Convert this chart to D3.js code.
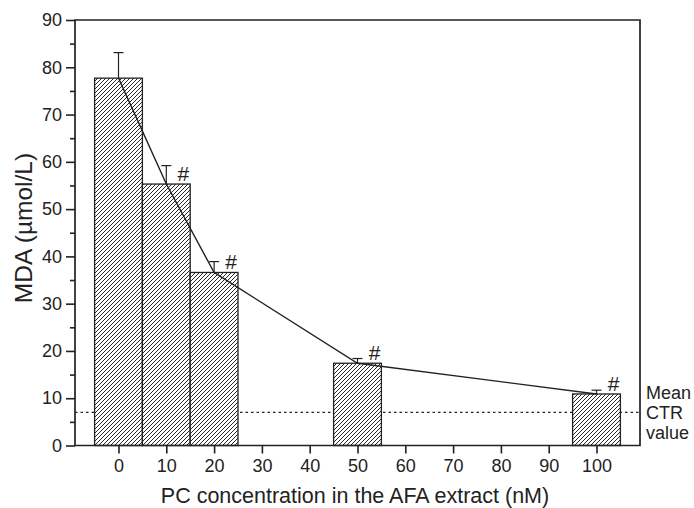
<!DOCTYPE html>
<html><head><meta charset="utf-8">
<script src="https://cdn.jsdelivr.net/npm/d3@7"></script>
<style>body{margin:0;background:#fff}svg{display:block}text{font-family:"Liberation Sans",Arial,sans-serif;fill:#222}</style>
</head><body><svg id="c" width="694" height="508"></svg>
<script>
const concentrations = [0, 10, 20, 50, 100];
const mdaValues = [77.7, 55.3, 36.6, 17.4, 10.9];
const mdaErrors = [5.4, 3.9, 2.3, 1.0, 0.8];
const significant = [false, true, true, true, true];
const xTicks = [0, 10, 20, 30, 40, 50, 60, 70, 80, 90, 100];
const yTicks = [0, 10, 20, 30, 40, 50, 60, 70, 80, 90];
const yMinorTicks = [5, 15, 25, 35, 45, 55, 65, 75, 85];
const ctrMean = 7;
const barWidthUnits = 10;
const xTitle = "PC concentration in the AFA extract (nM)";
const yTitle = "MDA (\u00b5mol/L)";
const ctrLabel = ["Mean", "CTR", "value"];

const svg = d3.select("#c");
const L = 75, R = 640, T = 20, B = 445.5;
const x = d3.scaleLinear().domain([-9.1, 109.1]).range([L, R]);
const y = d3.scaleLinear().domain([0, 90]).range([B, T]);
const ink = "#222";

const defs = svg.append("defs");
const S = 4;
const pat = defs.append("pattern").attr("id", "hatch").attr("patternUnits", "userSpaceOnUse")
  .attr("width", S).attr("height", S);
pat.append("rect").attr("width", S).attr("height", S).attr("fill", "#fff");
pat.append("path").attr("d", `M-1,1 L1,-1 M0,${S} L${S},0 M${S-1},${S+1} L${S+1},${S-1}`)
  .attr("stroke", "#1e1e1e").attr("stroke-width", 0.95);

// dotted control line
svg.append("line").attr("x1", L).attr("x2", R).attr("y1", y(ctrMean)).attr("y2", y(ctrMean))
  .attr("stroke", ink).attr("stroke-width", 1.1).attr("stroke-dasharray", "2.5,3");

// bars
svg.selectAll("rect.bar").data(concentrations).join("rect").attr("class", "bar")
  .attr("x", d => x(d - barWidthUnits / 2))
  .attr("width", d => x(d + barWidthUnits / 2) - x(d - barWidthUnits / 2))
  .attr("y", (d, i) => y(mdaValues[i]))
  .attr("height", (d, i) => B - y(mdaValues[i]))
  .attr("fill", "url(#hatch)").attr("stroke", ink).attr("stroke-width", 1.3);

// error bars
const eb = svg.append("g").attr("stroke", ink).attr("stroke-width", 1.2);
concentrations.forEach((c, i) => {
  const cx = x(c), y0 = y(mdaValues[i]), y1 = y(mdaValues[i] + mdaErrors[i]);
  eb.append("line").attr("x1", cx).attr("x2", cx).attr("y1", y0).attr("y2", y1);
  eb.append("line").attr("x1", cx - 5).attr("x2", cx + 5).attr("y1", y1).attr("y2", y1);
});

// connecting line
svg.append("path").datum(concentrations)
  .attr("d", d3.line().x(d => x(d)).y((d, i) => y(mdaValues[i])))
  .attr("fill", "none").attr("stroke", ink).attr("stroke-width", 1.4);

// significance marks
svg.selectAll("text.sig").data(concentrations.filter((c, i) => significant[i])).join("text")
  .attr("class", "sig")
  .attr("x", d => x(d) + 17).attr("y", d => y(mdaValues[concentrations.indexOf(d)]) - 3)
  .attr("text-anchor", "middle").attr("font-size", 21).text("#");

// frame
svg.append("path").attr("d", `M${L},${B} L${L},${T} L${R},${T} L${R},${B} Z`)
  .attr("fill", "none").attr("stroke", ink).attr("stroke-width", 1.7);

// axes
const xa = svg.append("g").attr("transform", `translate(0,${B})`)
  .call(d3.axisBottom(x).tickValues(xTicks).tickSize(8).tickPadding(6).tickFormat(d3.format("d")));
xa.select(".domain").remove();
xa.selectAll("line").attr("stroke", ink).attr("stroke-width", 1.6);
xa.selectAll("text").attr("font-size", 18).attr("fill", ink).attr("font-family", '"Liberation Sans",Arial,sans-serif');

const ya = svg.append("g").attr("transform", `translate(${L},0)`)
  .call(d3.axisLeft(y).tickValues(yTicks).tickSize(9).tickPadding(4).tickFormat(d3.format("d")));
ya.select(".domain").remove();
ya.selectAll("line").attr("stroke", ink).attr("stroke-width", 1.6);
ya.selectAll("text").attr("font-size", 18).attr("fill", ink).attr("font-family", '"Liberation Sans",Arial,sans-serif');

const ym = svg.append("g").attr("transform", `translate(${L},0)`)
  .call(d3.axisLeft(y).tickValues(yMinorTicks).tickSize(5).tickFormat(""));
ym.select(".domain").remove();
ym.selectAll("line").attr("stroke", ink).attr("stroke-width", 1.6);

// titles
svg.append("text").attr("x", 355).attr("y", 503).attr("text-anchor", "middle")
  .attr("font-size", 21.5).text(xTitle);
svg.append("text").attr("transform", `translate(32,228) rotate(-90)`)
  .attr("text-anchor", "middle").attr("font-size", 24.5).text(yTitle);

// CTR label
svg.append("text").attr("x", 646).attr("y", 399).attr("font-size", 18)
  .selectAll("tspan").data(ctrLabel).join("tspan")
  .attr("x", 646).attr("dy", (d, i) => i === 0 ? 0 : 20).text(d => d);
</script></body></html>
